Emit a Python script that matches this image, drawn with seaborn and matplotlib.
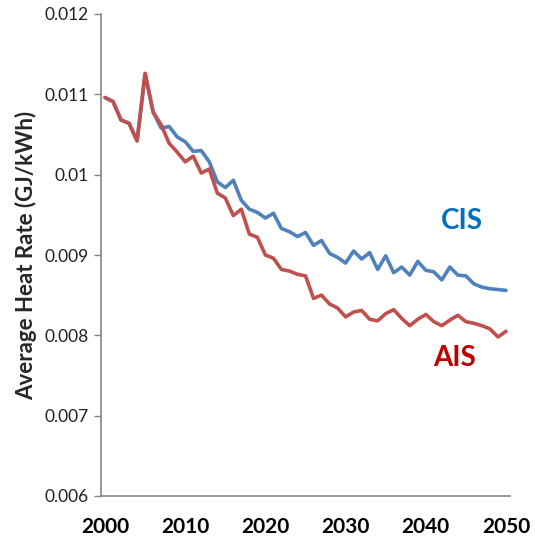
import numpy as np
import pandas as pd
import matplotlib
matplotlib.use("Agg")
import matplotlib.pyplot as plt
import seaborn as sns

years = list(range(2000, 2051))

cis = [0.01096, 0.01091, 0.01068, 0.01064, 0.01042, 0.01126, 0.01078,
       0.01058, 0.01060, 0.01047, 0.01041, 0.01029, 0.01030, 0.01016,
       0.00991, 0.00984, 0.00993, 0.00968, 0.00957, 0.00953, 0.00946,
       0.00952, 0.00933, 0.00929, 0.00923, 0.00928, 0.00912, 0.00918,
       0.00902, 0.00897, 0.00890, 0.00905, 0.00895, 0.00903, 0.00882,
       0.00899, 0.00878, 0.00885, 0.00875, 0.00892, 0.00881, 0.00879,
       0.00869, 0.00885, 0.00875, 0.00874, 0.00864, 0.00860, 0.00858,
       0.00857, 0.00856]

ais = [0.01096, 0.01091, 0.01068, 0.01064, 0.01042, 0.01126, 0.01078,
       0.01062, 0.01039, 0.01028, 0.01016, 0.01023, 0.01002, 0.01007,
       0.00977, 0.00971, 0.00949, 0.00957, 0.00926, 0.00922, 0.00900,
       0.00896, 0.00882, 0.00880, 0.00876, 0.00874, 0.00846, 0.00850,
       0.00839, 0.00834, 0.00823, 0.00829, 0.00831, 0.00820, 0.00818,
       0.00827, 0.00832, 0.00821, 0.00812, 0.00820, 0.00826, 0.00817,
       0.00812, 0.00819, 0.00825, 0.00817, 0.00815, 0.00812, 0.00808,
       0.00798, 0.00805]

series_names = ["CIS", "AIS"]
line_colors = {"CIS": "#4F81BD", "AIS": "#C0504D"}
label_colors = {"CIS": "#0070C0", "AIS": "#C00000"}
y_ticks = [0.006, 0.007, 0.008, 0.009, 0.01, 0.011, 0.012]
y_tick_labels = ["0.006", "0.007", "0.008", "0.009", "0.01", "0.011", "0.012"]
x_label_years = [2000, 2010, 2020, 2030, 2040, 2050]

df = pd.DataFrame({
    "Year": years * 2,
    "Heat Rate": cis + ais,
    "Scenario": ["CIS"] * len(years) + ["AIS"] * len(years),
})

sns.set_style("white")
plt.rcParams["font.family"] = ["Lato", "DejaVu Sans"]

fig = plt.figure(figsize=(5.35, 5.48), dpi=100)
ax = fig.add_axes([101 / 535, 52 / 548, 409 / 535, 482 / 548])

sns.lineplot(data=df, x="Year", y="Heat Rate", hue="Scenario",
             hue_order=series_names, palette=line_colors, linewidth=2.6,
             legend=False, ax=ax)

ax.set_xlim(1999.5, 2050.5)
ax.set_ylim(0.006, 0.012)
ax.set_yticks(y_ticks)
ax.set_yticklabels(y_tick_labels, fontsize=12.5, color="#222222")
ax.set_xticks(x_label_years)
ax.set_xticklabels([str(y) for y in x_label_years], fontsize=15,
                   fontweight="bold", color="black")
ax.set_xticks([y - 0.5 for y in x_label_years], minor=True)
ax.tick_params(axis="x", which="major", length=0, pad=15)
ax.tick_params(axis="x", which="minor", direction="in", length=5,
               color="#868686", width=1)
ax.tick_params(axis="y", which="major", direction="out", length=5,
               color="#868686", width=1, pad=4, left=True)

ax.set_xlabel("")
ax.set_ylabel("Average Heat Rate (GJ/kWh)", fontsize=16, fontweight="bold",
              labelpad=5)

for s in ["top", "right"]:
    ax.spines[s].set_visible(False)
for s in ["left", "bottom"]:
    ax.spines[s].set_color("#868686")
    ax.spines[s].set_linewidth(1.2)

ax.text(2044.5, 0.00942, "CIS", color=label_colors["CIS"], fontsize=20,
        fontweight="bold", ha="center", va="center")
ax.text(2043.6, 0.00772, "AIS", color=label_colors["AIS"], fontsize=20,
        fontweight="bold", ha="center", va="center")

fig.savefig("out.png", dpi=100)
